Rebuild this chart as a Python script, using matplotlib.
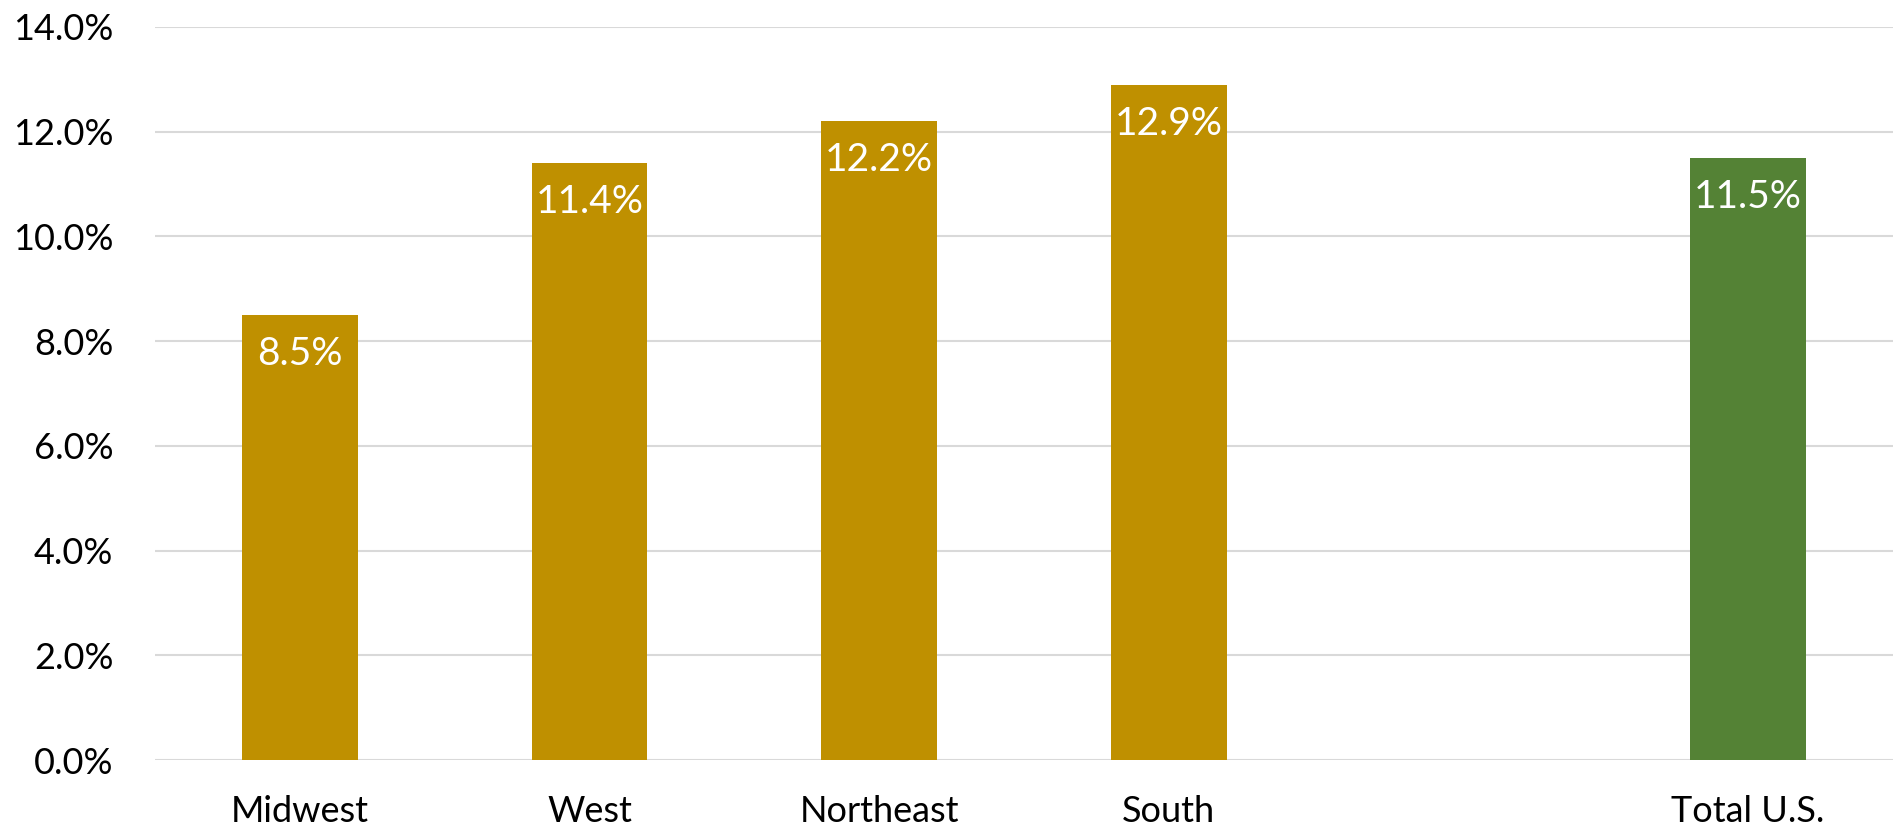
import matplotlib
matplotlib.use("Agg")
import matplotlib.pyplot as plt
from matplotlib.ticker import FuncFormatter

categories = ["Midwest", "West", "Northeast", "South", "", "Total U.S."]
values = [8.5, 11.4, 12.2, 12.9, None, 11.5]
colors = ["#BF9000", "#BF9000", "#BF9000", "#BF9000", None, "#548235"]
yticks = [0, 2, 4, 6, 8, 10, 12, 14]

plt.rcParams['font.family'] = ['Lato', 'DejaVu Sans']

fig = plt.figure(figsize=(18.96, 8.33), dpi=100)
ax = fig.add_axes([0.0818, 0.0876, 0.9166, 0.88])

for i, (v, c) in enumerate(zip(values, colors)):
    if v is None:
        continue
    ax.bar(i, v, width=0.4, color=c, zorder=3)
    ax.text(i, v - 0.4, f"{v:.1f}%", ha="center", va="top", color="white",
            fontsize=28, zorder=4)

ax.set_xlim(-0.5, len(categories) - 0.5)
ax.set_ylim(0, 14)
ax.set_yticks(yticks)
ax.yaxis.set_major_formatter(FuncFormatter(lambda y, _: f"{y:.1f}%"))
ax.set_xticks(range(len(categories)))
ax.set_xticklabels(categories)
ax.tick_params(axis="both", length=0, labelsize=26, colors="black")
ax.tick_params(axis="x", pad=25)
ax.tick_params(axis="y", pad=30)
ax.grid(axis="y", color="#D9D9D9", linewidth=1.5, zorder=0)
for s in ax.spines.values():
    s.set_visible(False)

fig.savefig("out.png", dpi=100)
